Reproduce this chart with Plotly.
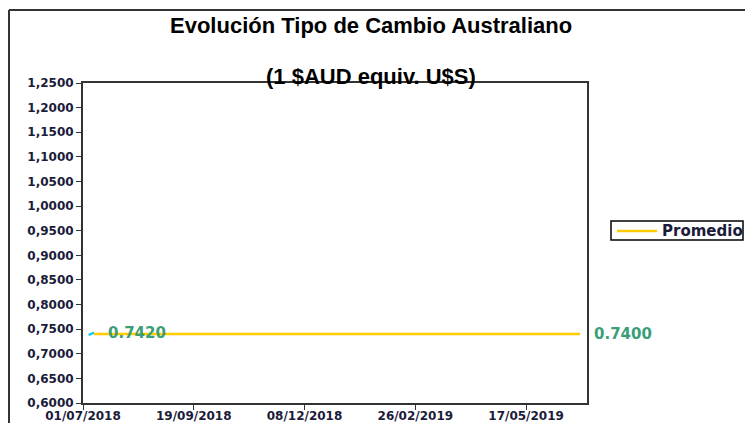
import plotly.graph_objects as go

# Data
daily_dates = ["2018-07-05", "2018-07-06", "2018-07-07", "2018-07-08", "2018-07-09"]
daily_values = [0.7385, 0.7390, 0.7405, 0.7418, 0.7420]
avg_dates = ["2018-07-09", "2019-06-25"]
avg_values = [0.7400, 0.7400]
series_name = "Promedio"
label_start = "0.7420"
label_end = "0.7400"
y_ticks = [0.60, 0.65, 0.70, 0.75, 0.80, 0.85, 0.90, 0.95, 1.00, 1.05, 1.10, 1.15, 1.20, 1.25]
y_tick_text = ["0,6000", "0,6500", "0,7000", "0,7500", "0,8000", "0,8500", "0,9000",
               "0,9500", "1,0000", "1,0500", "1,1000", "1,1500", "1,2000", "1,2500"]
x_ticks = ["2018-07-01", "2018-09-19", "2018-12-08", "2019-02-26", "2019-05-17"]
x_tick_text = ["01/07/2018", "19/09/2018", "08/12/2018", "26/02/2019", "17/05/2019"]
x_range = ["2018-07-01", "2019-06-30"]

L, R, T, B = 83, 158, 83, 20
W, H = 745, 423
plot_w = W - L - R
plot_h = H - T - B

def px_x(px):
    return (px - L) / plot_w

def px_y(py):
    return 1 + (T - py) / plot_h

fig = go.Figure()
fig.add_trace(go.Scatter(x=daily_dates, y=daily_values, mode="lines",
                         line=dict(color="#1fc8e8", width=2.5), showlegend=False,
                         hoverinfo="skip"))
fig.add_trace(go.Scatter(x=avg_dates, y=avg_values, mode="lines", name=series_name,
                         line=dict(color="#ffcc00", width=2.5), showlegend=False))

val_font = dict(family="DejaVu Sans", size=15, color="#3a9e78", weight="bold")
fig.add_annotation(x=daily_dates[-1], y=daily_values[-1], text=label_start,
                   xanchor="left", yanchor="middle", xshift=12, showarrow=False, font=val_font)
fig.add_annotation(x=1, xref="paper", y=avg_values[-1], text=label_end,
                   xanchor="left", yanchor="middle", xshift=5, showarrow=False, font=val_font)

title_font = dict(family="Liberation Sans", size=22, color="black", weight="bold")
fig.add_annotation(x=px_x(371), y=px_y(26), xref="paper", yref="paper",
                   text="Evolución Tipo de Cambio Australiano",
                   showarrow=False, yanchor="middle", font=title_font)
fig.add_annotation(x=px_x(371), y=px_y(77), xref="paper", yref="paper",
                   text="(1 $AUD equiv. U$S)",
                   showarrow=False, yanchor="middle", font=title_font)

# legend box (drawn so it can run past the right edge like the reference)
fig.add_shape(type="rect", xref="paper", yref="paper",
              x0=px_x(611), x1=px_x(743), y0=px_y(221), y1=px_y(240),
              line=dict(color="black", width=1.5), fillcolor="white", layer="above")
fig.add_shape(type="line", xref="paper", yref="paper",
              x0=px_x(617), x1=px_x(657), y0=px_y(231), y1=px_y(231),
              line=dict(color="#ffcc00", width=2.5), layer="above")
fig.add_annotation(x=px_x(660), y=px_y(231), xref="paper", yref="paper",
                   text=series_name, showarrow=False, xanchor="left", yanchor="middle",
                   font=dict(family="DejaVu Sans", size=15, color="#1b1b3a", weight="bold"))

axis_common = dict(showgrid=False, zeroline=False, showline=True, linecolor="#333333",
                   linewidth=2, mirror=True, ticks="outside", ticklen=5, tickcolor="#333333",
                   automargin=False)

fig.update_layout(
    template="none",
    width=W, height=H,
    margin=dict(l=L, r=R, t=T, b=B),
    paper_bgcolor="white", plot_bgcolor="white",
    showlegend=False,
    xaxis=dict(range=x_range, tickvals=x_ticks, ticktext=x_tick_text, type="date",
               tickfont=dict(family="DejaVu Sans", size=12, color="#1b1b3a", weight="bold"),
               ticklabelstandoff=-4,
               **axis_common),
    yaxis=dict(range=[0.6, 1.25], tickvals=y_ticks, ticktext=y_tick_text,
               tickfont=dict(family="DejaVu Sans", size=12, color="#1b1b3a", weight="bold"),
               **axis_common),
)

# outer chart border
fig.add_shape(type="line", xref="paper", yref="paper",
              x0=px_x(9), x1=px_x(9), y0=px_y(10), y1=px_y(430),
              line=dict(color="#333333", width=2))
fig.add_shape(type="line", xref="paper", yref="paper",
              x0=px_x(9), x1=px_x(760), y0=px_y(10), y1=px_y(10),
              line=dict(color="#333333", width=2))

post = "document.body.style.margin='0';document.body.style.overflow='hidden';"

fig.write_html("out.html", post_script=post, config={"displayModeBar": False})
